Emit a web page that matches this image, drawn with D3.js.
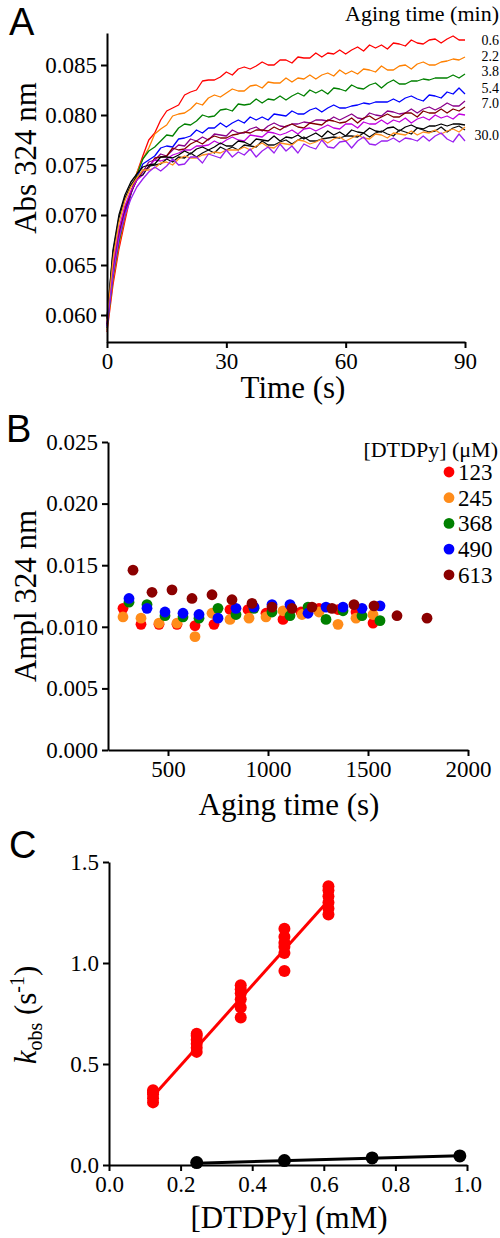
<!DOCTYPE html>
<html><head><meta charset="utf-8">
<script src="https://cdn.jsdelivr.net/npm/d3@7"></script>
<style>body{margin:0;background:#fff}svg{display:block}</style>
</head><body><svg id="c" width="500" height="1238"></svg>
<script>
// ---------- Panel A data ----------
const timeS = [0,1.5,3,4.5,6,7.5,9,10.5,12,13.5,15,16.5,18,19.5,21,22.5,24,25.5,27,28.5,30,31.5,33,34.5,36,37.5,39,40.5,42,43.5,45,46.5,48,49.5,51,52.5,54,55.5,57,58.5,60,61.5,63,64.5,66,67.5,69,70.5,72,73.5,75,76.5,78,79.5,81,82.5,84,85.5,87,88.5,90];
const absT0_6 = [0.0583,0.0630,0.0666,0.0694,0.0721,0.0742,0.0759,0.0775,0.0782,0.0795,0.0804,0.0807,0.0810,0.0820,0.0823,0.0825,0.0834,0.0835,0.0835,0.0838,0.0843,0.0840,0.0846,0.0848,0.0846,0.0849,0.0853,0.0850,0.0850,0.0855,0.0855,0.0852,0.0858,0.0857,0.0857,0.0862,0.0858,0.0862,0.0861,0.0865,0.0861,0.0865,0.0868,0.0864,0.0870,0.0867,0.0870,0.0866,0.0872,0.0871,0.0869,0.0875,0.0872,0.0871,0.0875,0.0876,0.0872,0.0876,0.0879,0.0875,0.0875];
const absT2_2 = [0.0585,0.0635,0.0670,0.0698,0.0722,0.0742,0.0756,0.0767,0.0781,0.0786,0.0790,0.0799,0.0801,0.0802,0.0806,0.0812,0.0810,0.0817,0.0820,0.0818,0.0822,0.0826,0.0824,0.0824,0.0829,0.0830,0.0827,0.0833,0.0832,0.0832,0.0837,0.0833,0.0837,0.0836,0.0840,0.0836,0.0840,0.0842,0.0839,0.0845,0.0841,0.0844,0.0841,0.0846,0.0845,0.0843,0.0849,0.0845,0.0845,0.0849,0.0850,0.0846,0.0851,0.0853,0.0850,0.0850,0.0853,0.0854,0.0856,0.0855,0.0858];
const absT3_8 = [0.0587,0.0638,0.0673,0.0700,0.0722,0.0740,0.0756,0.0764,0.0768,0.0774,0.0780,0.0779,0.0787,0.0791,0.0790,0.0794,0.0800,0.0798,0.0799,0.0805,0.0806,0.0804,0.0811,0.0810,0.0811,0.0816,0.0812,0.0816,0.0815,0.0819,0.0815,0.0819,0.0822,0.0819,0.0825,0.0822,0.0825,0.0821,0.0827,0.0826,0.0824,0.0830,0.0827,0.0826,0.0830,0.0832,0.0827,0.0832,0.0835,0.0831,0.0831,0.0834,0.0834,0.0836,0.0835,0.0837,0.0837,0.0837,0.0840,0.0837,0.0841];
const absT5_4 = [0.0589,0.0642,0.0677,0.0702,0.0721,0.0737,0.0751,0.0755,0.0759,0.0767,0.0769,0.0768,0.0776,0.0777,0.0779,0.0785,0.0782,0.0787,0.0787,0.0792,0.0788,0.0792,0.0795,0.0792,0.0798,0.0795,0.0798,0.0795,0.0801,0.0800,0.0799,0.0804,0.0801,0.0801,0.0805,0.0807,0.0803,0.0807,0.0810,0.0807,0.0807,0.0809,0.0810,0.0812,0.0811,0.0813,0.0813,0.0813,0.0816,0.0813,0.0817,0.0819,0.0816,0.0814,0.0820,0.0819,0.0817,0.0823,0.0821,0.0827,0.0821];
const absT7_0 = [0.0590,0.0645,0.0680,0.0705,0.0722,0.0735,0.0743,0.0753,0.0755,0.0761,0.0759,0.0765,0.0770,0.0769,0.0776,0.0774,0.0778,0.0775,0.0781,0.0780,0.0779,0.0785,0.0782,0.0782,0.0786,0.0788,0.0784,0.0789,0.0792,0.0789,0.0788,0.0791,0.0791,0.0793,0.0792,0.0795,0.0795,0.0794,0.0798,0.0795,0.0798,0.0801,0.0797,0.0796,0.0802,0.0800,0.0799,0.0804,0.0803,0.0801,0.0802,0.0806,0.0802,0.0806,0.0808,0.0805,0.0808,0.0812,0.0809,0.0809,0.0814];
const absT8_6 = [0.0591,0.0648,0.0683,0.0707,0.0723,0.0735,0.0745,0.0747,0.0757,0.0758,0.0759,0.0767,0.0765,0.0766,0.0771,0.0774,0.0771,0.0776,0.0779,0.0777,0.0777,0.0780,0.0781,0.0783,0.0782,0.0785,0.0785,0.0784,0.0788,0.0785,0.0789,0.0791,0.0788,0.0787,0.0792,0.0791,0.0790,0.0795,0.0794,0.0792,0.0793,0.0797,0.0792,0.0797,0.0799,0.0795,0.0798,0.0801,0.0798,0.0798,0.0802,0.0802,0.0798,0.0804,0.0802,0.0802,0.0806,0.0802,0.0806,0.0804,0.0808];
const absT10_2 = [0.0592,0.0650,0.0686,0.0709,0.0724,0.0735,0.0740,0.0749,0.0755,0.0754,0.0756,0.0760,0.0762,0.0765,0.0765,0.0769,0.0769,0.0770,0.0774,0.0771,0.0775,0.0778,0.0775,0.0774,0.0780,0.0779,0.0778,0.0783,0.0782,0.0780,0.0782,0.0785,0.0781,0.0786,0.0787,0.0784,0.0787,0.0790,0.0787,0.0786,0.0791,0.0791,0.0787,0.0793,0.0791,0.0791,0.0795,0.0791,0.0795,0.0793,0.0797,0.0792,0.0796,0.0798,0.0795,0.0800,0.0797,0.0799,0.0796,0.0801,0.0800];
const absT11_8 = [0.0596,0.0665,0.0700,0.0720,0.0733,0.0741,0.0748,0.0750,0.0751,0.0758,0.0758,0.0757,0.0760,0.0764,0.0761,0.0766,0.0768,0.0765,0.0768,0.0772,0.0769,0.0769,0.0774,0.0773,0.0770,0.0776,0.0775,0.0774,0.0779,0.0774,0.0778,0.0777,0.0780,0.0776,0.0779,0.0782,0.0778,0.0784,0.0780,0.0783,0.0779,0.0785,0.0783,0.0782,0.0787,0.0784,0.0783,0.0787,0.0788,0.0784,0.0788,0.0790,0.0787,0.0786,0.0789,0.0789,0.0791,0.0789,0.0791,0.0791,0.0790];
const absT13_4 = [0.0597,0.0662,0.0697,0.0717,0.0730,0.0738,0.0740,0.0749,0.0750,0.0751,0.0756,0.0753,0.0758,0.0757,0.0762,0.0758,0.0762,0.0765,0.0762,0.0768,0.0765,0.0768,0.0765,0.0770,0.0769,0.0768,0.0774,0.0770,0.0770,0.0773,0.0775,0.0771,0.0775,0.0778,0.0774,0.0774,0.0776,0.0777,0.0778,0.0777,0.0779,0.0779,0.0778,0.0782,0.0778,0.0782,0.0784,0.0781,0.0779,0.0785,0.0783,0.0781,0.0787,0.0785,0.0783,0.0784,0.0788,0.0783,0.0787,0.0789,0.0785];
const absT15_0 = [0.0594,0.0655,0.0692,0.0714,0.0728,0.0737,0.0745,0.0745,0.0747,0.0752,0.0753,0.0750,0.0756,0.0759,0.0757,0.0757,0.0760,0.0761,0.0763,0.0762,0.0765,0.0765,0.0765,0.0768,0.0765,0.0769,0.0772,0.0768,0.0767,0.0772,0.0771,0.0770,0.0775,0.0774,0.0771,0.0773,0.0776,0.0772,0.0776,0.0778,0.0774,0.0777,0.0780,0.0777,0.0776,0.0781,0.0780,0.0777,0.0782,0.0781,0.0780,0.0784,0.0780,0.0783,0.0782,0.0785,0.0781,0.0784,0.0786,0.0783,0.0788];
const absT30_0 = [0.0588,0.0640,0.0676,0.0700,0.0716,0.0728,0.0736,0.0743,0.0748,0.0744,0.0749,0.0756,0.0750,0.0751,0.0758,0.0758,0.0752,0.0761,0.0759,0.0757,0.0765,0.0758,0.0763,0.0760,0.0766,0.0758,0.0764,0.0768,0.0762,0.0771,0.0764,0.0769,0.0762,0.0771,0.0768,0.0766,0.0775,0.0768,0.0767,0.0773,0.0774,0.0767,0.0774,0.0778,0.0771,0.0770,0.0774,0.0774,0.0777,0.0773,0.0777,0.0776,0.0774,0.0779,0.0774,0.0779,0.0782,0.0776,0.0773,0.0781,0.0774];
const traceList = [absT0_6, absT2_2, absT3_8, absT5_4, absT7_0, absT8_6, absT10_2, absT11_8, absT13_4, absT15_0, absT30_0];
const traceColors = ["#ff0000","#ff8000","#008000","#0000ff","#8b008b","#800000","#c000e0","#000000","#111111","#ff9020","#9a20f0"];
const agingLabels = ["0.6","2.2","3.8","5.4","7.0","30.0"];
const agingLabelAbs = [0.0875,0.0859,0.0844,0.0827,0.0812,0.0780];
const absTicks = [0.060,0.065,0.070,0.075,0.080,0.085];
const timeTicks = [0,30,60,90];

// ---------- Panel B data ----------
const dtdpyLegend = ["123","245","368","490","613"];
const dtdpyColors = ["#ff0000","#ff8c1a","#008000","#0000ff","#8b0000"];
const agingB_123 = [275,365,455,545,635,730,810,900,990,1075,1165,1255,1350,1440,1525];
const amplB_123 = [0.0115,0.0102,0.0102,0.0102,0.0101,0.0102,0.0114,0.0114,0.0111,0.0106,0.0112,0.0115,0.0114,0.0112,0.0103];
const agingB_245 = [275,365,455,545,635,720,810,905,990,1075,1170,1255,1350,1440,1525];
const amplB_245 = [0.0108,0.0107,0.0103,0.0103,0.0092,0.0111,0.0106,0.0107,0.0108,0.0113,0.0110,0.0112,0.0102,0.0107,0.0110];
const agingB_368 = [305,395,485,575,655,750,840,930,1020,1110,1200,1290,1375,1470,1560];
const amplB_368 = [0.0120,0.0118,0.0109,0.0108,0.0107,0.0115,0.0110,0.0115,0.0112,0.0109,0.0116,0.0106,0.0113,0.0109,0.0105];
const agingB_490 = [305,395,485,575,655,750,840,930,1020,1110,1200,1290,1375,1470,1560];
const amplB_490 = [0.0123,0.0115,0.0112,0.0111,0.0110,0.0107,0.0115,0.0116,0.0118,0.0118,0.0111,0.0116,0.0116,0.0115,0.0117];
const agingB_613 = [325,420,520,620,720,820,920,1020,1120,1220,1320,1430,1530,1645,1795];
const amplB_613 = [0.0146,0.0128,0.0130,0.0123,0.0126,0.0122,0.0119,0.0116,0.0115,0.0116,0.0115,0.0118,0.0117,0.0109,0.0107];
const amplTicks = [0,0.005,0.010,0.015,0.020,0.025];
const agingTicks = [500,1000,1500,2000];

// ---------- Panel C data ----------
const concRed = [0.123,0.123,0.123,0.123,0.123, 0.245,0.245,0.245,0.245,0.245,0.245, 0.368,0.368,0.368,0.368,0.368,0.368, 0.49,0.49,0.49,0.49,0.49,0.49, 0.613,0.613,0.613,0.613,0.613,0.613];
const kobsRed = [0.31,0.33,0.35,0.36,0.37, 0.56,0.58,0.60,0.62,0.64,0.65, 0.73,0.78,0.82,0.85,0.87,0.89, 0.96,1.05,1.08,1.10,1.13,1.17, 1.24,1.27,1.30,1.33,1.36,1.38];
const fitRedConc = [0.123,0.613];
const fitRedK = [0.34,1.31];
const concBlack = [0.245,0.49,0.735,0.98];
const kobsBlack = [0.012,0.022,0.035,0.045];
const fitBlackConc = [0.245,0.98];
const fitBlackK = [0.009,0.046];
const kTicks = [0,0.5,1.0,1.5];
const concTicks = [0,0.2,0.4,0.6,0.8,1.0];

// ---------- drawing ----------
const serif = '"Liberation Serif","Times New Roman",serif';
const sans = '"Liberation Sans",Arial,sans-serif';
const svg = d3.select("#c");

function styleAxis(g){
  g.attr("font-size", null).attr("font-family", null);
  g.select(".domain").attr("stroke","#000").attr("stroke-width",2);
  g.selectAll(".tick line").attr("stroke","#000").attr("stroke-width",2);
  g.selectAll(".tick text").attr("font-family",serif).attr("font-size",23).attr("fill","#000");
}
function txt(x,y,s,size,anchor,family){
  return svg.append("text").attr("x",x).attr("y",y).attr("font-family",family||serif)
    .attr("font-size",size).attr("text-anchor",anchor||"start").attr("fill","#000").text(s);
}

// Panel A
const xA = d3.scaleLinear().domain([0,90]).range([107,465]);
const yA = d3.scaleLinear().domain([0.0573,0.0882]).range([342,33]);
const lineA = d3.line().x((d,i)=>xA(timeS[i])).y(d=>yA(d));
svg.append("g").selectAll("path").data(traceList).join("path")
  .attr("d", lineA).attr("fill","none").attr("stroke",(d,i)=>traceColors[i])
  .attr("stroke-width",1.3).attr("stroke-linejoin","round");
svg.append("g").attr("transform","translate(107,0)")
  .call(d3.axisLeft(yA).tickValues(absTicks).tickFormat(d3.format(".3f")).tickSize(6).tickSizeOuter(0).tickPadding(4))
  .call(styleAxis);
svg.append("g").attr("transform","translate(0,342)")
  .call(d3.axisBottom(xA).tickValues(timeTicks).tickFormat(d3.format("d")).tickSize(6).tickSizeOuter(0).tickPadding(5))
  .call(styleAxis);
svg.append("g").selectAll("text").data(agingLabels).join("text")
  .attr("x",499).attr("y",(d,i)=>yA(agingLabelAbs[i])).attr("dy","0.35em")
  .attr("text-anchor","end").attr("font-family",serif).attr("font-size",14).attr("fill","#000").text(d=>d);
txt(499,21,"Aging time (min)",22,"end");
txt(293,398,"Time (s)",31,"middle");
svg.append("text").attr("transform","translate(36,158) rotate(-90)").attr("text-anchor","middle")
  .attr("font-family",serif).attr("font-size",31).attr("fill","#000").text("Abs 324 nm");
txt(9,35,"A",38,"start",sans);

// Panel B
const xB = d3.scaleLinear().domain([200,2000]).range([108,468]);
const yB = d3.scaleLinear().domain([0,0.025]).range([750,442]);
svg.append("g").attr("transform","translate(108,0)")
  .call(d3.axisLeft(yB).tickValues(amplTicks).tickFormat(d3.format(".3f")).tickSize(6).tickSizeOuter(0).tickPadding(4))
  .call(styleAxis);
svg.append("g").attr("transform","translate(0,750)")
  .call(d3.axisBottom(xB).tickValues(agingTicks).tickFormat(d3.format("d")).tickSize(6).tickSizeOuter(0).tickPadding(5))
  .call(styleAxis);
const seriesB = [[agingB_123,amplB_123],[agingB_245,amplB_245],[agingB_368,amplB_368],[agingB_490,amplB_490],[agingB_613,amplB_613]];
seriesB.forEach((s,k)=>{
  svg.append("g").selectAll("circle").data(s[0]).join("circle")
    .attr("cx",d=>xB(d)).attr("cy",(d,i)=>yB(s[1][i])).attr("r",5.4).attr("fill",dtdpyColors[k]);
});
txt(498,457,"[DTDPy] (μM)",22,"end");
const legB = svg.append("g").selectAll("g").data(dtdpyLegend).join("g")
  .attr("transform",(d,i)=>`translate(0,${472+i*25.7})`);
legB.append("circle").attr("cx",449).attr("cy",0).attr("r",5.4).attr("fill",(d,i)=>dtdpyColors[i]);
legB.append("text").attr("x",458).attr("y",0).attr("dy","0.35em").attr("font-family",serif)
  .attr("font-size",23).attr("fill","#000").text(d=>d);
txt(289,815,"Aging time (s)",31,"middle");
svg.append("text").attr("transform","translate(36,596) rotate(-90)").attr("text-anchor","middle")
  .attr("font-family",serif).attr("font-size",31).attr("fill","#000").text("Ampl 324 nm");
txt(6,442,"B",38,"start",sans);

// Panel C
const xC = d3.scaleLinear().domain([0,1]).range([109,467]);
const yC = d3.scaleLinear().domain([0,1.5]).range([1165,862]);
svg.append("g").attr("transform","translate(109,0)")
  .call(d3.axisLeft(yC).tickValues(kTicks).tickFormat(d3.format(".1f")).tickSize(6).tickSizeOuter(0).tickPadding(4))
  .call(styleAxis);
svg.append("g").attr("transform","translate(0,1165)")
  .call(d3.axisBottom(xC).tickValues(concTicks).tickFormat(d3.format(".1f")).tickSize(6).tickSizeOuter(0).tickPadding(5))
  .call(styleAxis);
const lineC = d3.line().x(d=>xC(d[0])).y(d=>yC(d[1]));
svg.append("path").attr("d",lineC(fitRedConc.map((c,i)=>[c,fitRedK[i]])))
  .attr("stroke","#ff0000").attr("stroke-width",3).attr("fill","none");
svg.append("g").selectAll("circle").data(concRed).join("circle")
  .attr("cx",d=>xC(d)).attr("cy",(d,i)=>yC(kobsRed[i])).attr("r",6).attr("fill","#ff0000");
svg.append("path").attr("d",lineC(fitBlackConc.map((c,i)=>[c,fitBlackK[i]])))
  .attr("stroke","#000").attr("stroke-width",3).attr("fill","none");
svg.append("g").selectAll("circle").data(concBlack).join("circle")
  .attr("cx",d=>xC(d)).attr("cy",(d,i)=>yC(kobsBlack[i])).attr("r",6.5).attr("fill","#000");
txt(289,1228,"[DTDPy] (mM)",31,"middle");
const kt = svg.append("text").attr("transform","translate(36,1015) rotate(-90)").attr("text-anchor","middle")
  .attr("font-family",serif).attr("font-size",31).attr("fill","#000");
kt.append("tspan").attr("font-style","italic").text("k");
kt.append("tspan").attr("font-size",20).attr("dy",6).text("obs");
kt.append("tspan").attr("dy",-6).text(" (s");
kt.append("tspan").attr("font-size",20).attr("dy",-12).text("-1");
kt.append("tspan").attr("dy",12).text(")");
txt(9,858,"C",38,"start",sans);
</script>
</body></html>
